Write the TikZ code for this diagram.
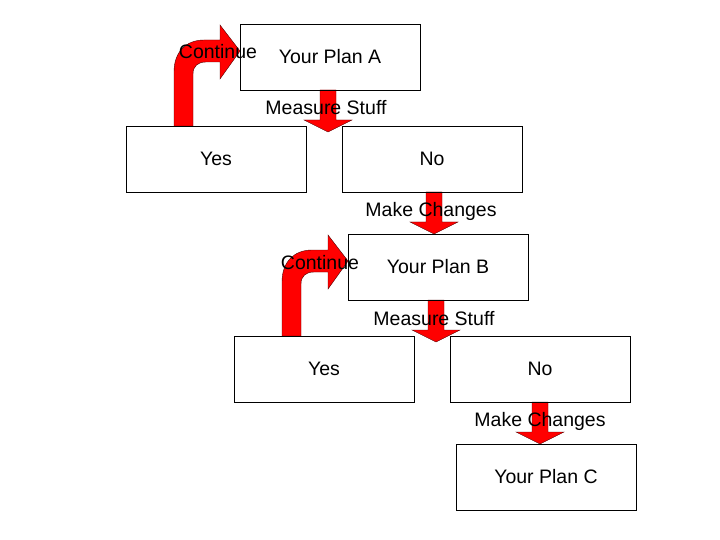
\documentclass[tikz,border=0pt]{standalone}
\usepackage{fontspec}
\setmainfont{Liberation Sans}
\begin{document}
\begin{tikzpicture}[x=1pt,y=-1pt,
  box/.style={draw,thin,minimum width=180pt,minimum height=66pt,anchor=north west,inner sep=0pt},
  lbl/.style={font=\fontsize{19.5}{22}\selectfont,inner sep=0pt},
  redarrow/.style={fill=red,draw=black!70!red,line width=0.4pt}]
\useasboundingbox (0,0) rectangle (720,540);
\newcommand\mybentarrow[2]{%
  \begin{scope}[shift={(#1,#2)}]
  \path[redarrow] (174,126) -- (174,72) .. controls (174,52) and (186,40) .. (204,40)
    -- (220,40) -- (220,25) -- (240,51) -- (220,79) -- (220,62) -- (206,62)
    .. controls (198,62) and (193,66) .. (193,74) -- (193,126) -- cycle;
  \end{scope}}
\newcommand\mydownarrow[3]{%
  \begin{scope}[shift={(#1,#2)}]
  \path[redarrow] (-8,0) -- (-8,#3) -- (-24,#3) -- (0,#3+12) -- (24,#3) -- (8,#3) -- (8,0) -- cycle;
  \end{scope}}
% arrows
\mybentarrow{0}{0}
\mybentarrow{108}{210}
\mydownarrow{328}{90}{30}
\mydownarrow{434}{192}{30}
\mydownarrow{436}{300}{30}
\mydownarrow{540}{402}{30}
% boxes
\node[box] (a) at (240,24) {};
\node[lbl] (at) at (330,57) {Your Plan A};
\node[box] (y1) at (126,126) {};
\node[lbl] (y1t) at (216,159) {Yes};
\node[box] (n1) at (342,126) {};
\node[lbl] (n1t) at (432,159) {No};
\node[box] (b) at (348,234) {};
\node[lbl] (bt) at (438,267) {Your Plan B};
\node[box] (y2) at (234,336) {};
\node[lbl] (y2t) at (324,369) {Yes};
\node[box] (n2) at (450,336) {};
\node[lbl] (n2t) at (540,369) {No};
\node[box] (c) at (456,444) {};
\node[lbl] (ct) at (546,477) {Your Plan C};
% labels
\node[lbl] (c1) at (218,52) {Continue};
\node[lbl] (c2) at (320,263) {Continue};
\node[lbl] (m1) at (326,108) {Measure Stuff};
\node[lbl] (m2) at (434,319) {Measure Stuff};
\node[lbl] (k1) at (431,211) {Make Changes};
\node[lbl] (k2) at (540,421) {Make Changes};
\end{tikzpicture}
\end{document}
